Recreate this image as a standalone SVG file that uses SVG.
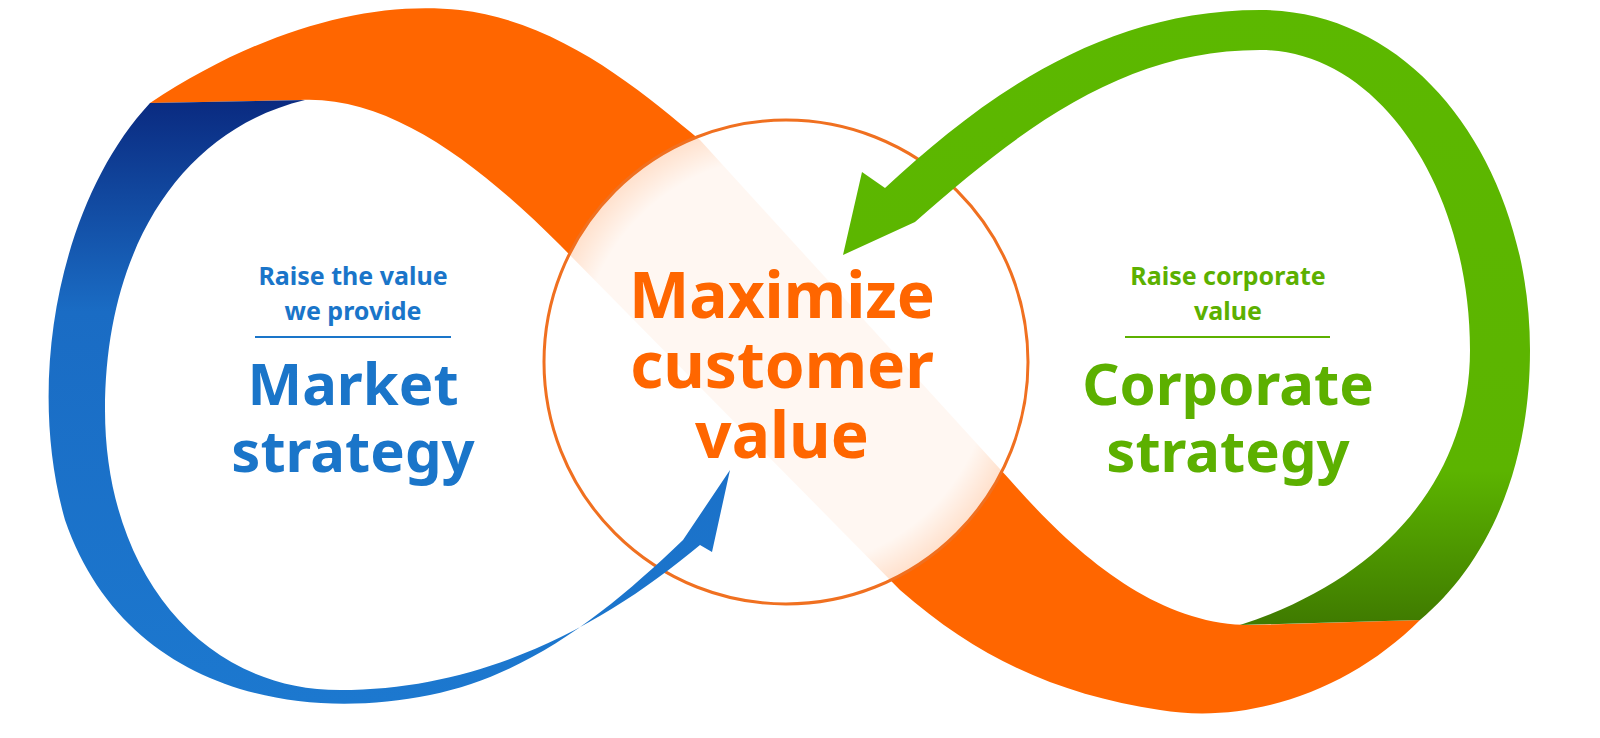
<svg xmlns="http://www.w3.org/2000/svg" width="1600" height="738" viewBox="0 0 1600 738">
<defs>
<linearGradient id="gb" x1="0" y1="0" x2="0" y2="1">
<stop offset="0" stop-color="#0a2a80"/><stop offset="0.35" stop-color="#1a6cc4"/><stop offset="1" stop-color="#1c78cf"/>
</linearGradient>
<linearGradient id="gg" x1="0" y1="0" x2="0" y2="1">
<stop offset="0" stop-color="#5cb800"/><stop offset="0.75" stop-color="#5cb400"/><stop offset="1" stop-color="#3f7a00"/>
</linearGradient>
<radialGradient id="gc" cx="0.5" cy="0.5" r="0.5">
<stop offset="0.85" stop-color="#fff" stop-opacity="0.95"/><stop offset="1" stop-color="#fff" stop-opacity="0.8"/>
</radialGradient>
<style>
text{font-family:"Noto Sans","DejaVu Sans",sans-serif;font-weight:bold;text-anchor:middle}
.b{fill:#1a75c9}.g{fill:#5cb000}.o{fill:#ff6600}
.s{font-size:25px}.l{font-size:58px}.c{font-size:64px}
</style>
</defs>
<g id="orange-ribbon">
<path fill="#ff6600" d="M150,103 C260,30 370,0 460,10 C560,22 640,90 700,140 L1010,480 C1080,560 1160,625 1250,625 L1420,620 C1350,690 1250,725 1160,710 C1060,695 980,660 900,590 L560,245 C480,165 390,95 300,100 Z"/>
</g>
<g id="center">
<circle cx="786" cy="362" r="242" fill="url(#gc)" stroke="#f07020" stroke-width="3"/>
<text class="o c" x="782" y="318">Maximize</text>
<text class="o c" x="782" y="388">customer</text>
<text class="o c" x="782" y="458">value</text>
</g>
<g id="blue-ribbon">
<path fill="url(#gb)" d="M150,103 C60,200 25,380 65,520 C120,680 280,725 430,695 C530,675 610,610 683,540 L730,470 L712,552 L700,545 C610,620 490,690 340,690 C200,690 105,570 105,410 C105,250 180,130 305,100 Z"/>
</g>
<g id="green-ribbon">
<path fill="url(#gg)" d="M843,255 L862,172 L885,188 C980,100 1100,10 1260,10 C1420,10 1530,170 1530,350 C1530,480 1480,570 1420,620 L1240,625 C1380,580 1470,480 1470,350 C1470,190 1380,50 1260,50 C1130,50 1030,120 915,222 Z"/>
</g>
<g id="market">
<text class="b s" x="353" y="285">Raise the value</text>
<text class="b s" x="353" y="320">we provide</text>
<line x1="255" y1="337" x2="451" y2="337" stroke="#1a75c9" stroke-width="2"/>
<text class="b l" x="353" y="405">Market</text>
<text class="b l" x="353" y="472">strategy</text>
</g>
<g id="corporate">
<text class="g s" x="1228" y="285">Raise corporate</text>
<text class="g s" x="1228" y="320">value</text>
<line x1="1125" y1="337" x2="1330" y2="337" stroke="#5cb000" stroke-width="2"/>
<text class="g l" x="1228" y="405">Corporate</text>
<text class="g l" x="1228" y="472">strategy</text>
</g>
</svg>
